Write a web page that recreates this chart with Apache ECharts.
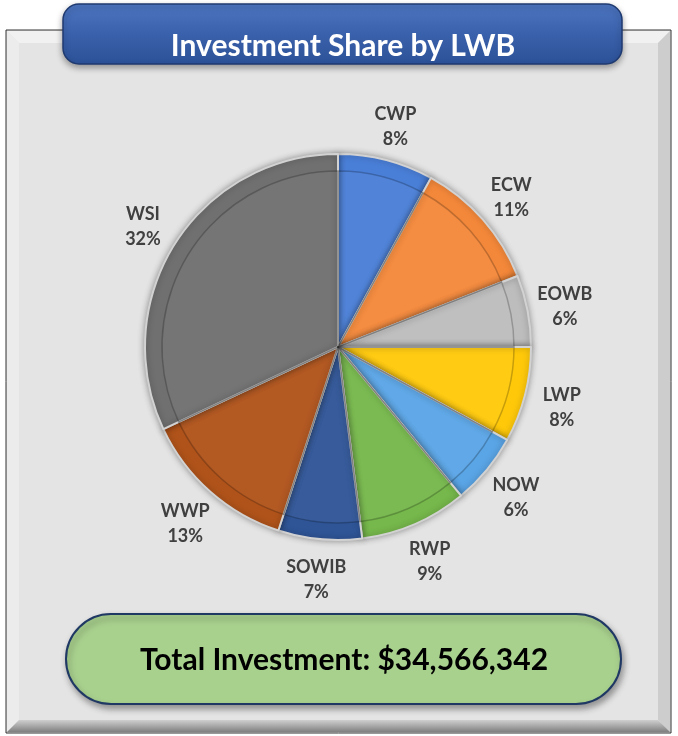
<!DOCTYPE html>
<html>
<head>
<meta charset="utf-8">
<script src="https://cdn.jsdelivr.net/npm/echarts@6/dist/echarts.min.js"></script>
<style>
  html, body { margin: 0; padding: 0; background: #fff; }
  #chart { width: 678px; height: 736px; }
</style>
</head>
<body>
<div id="chart"></div>
<script>
// data (share in %)
const categories = ['CWP', 'ECW', 'EOWB', 'LWP', 'NOW', 'RWP', 'SOWIB', 'WWP', 'WSI']
const shares = [8, 11, 6, 8, 6, 9, 7, 13, 32]
const sliceColors = ['#4a7fd8', '#f4883a', '#bdbdbd', '#ffc90a', '#5aa5e6', '#76b84b', '#2f5597', '#b0531a', '#707070']
const titleText = 'Investment Share by LWB'
const totalText = 'Total Investment: $34,566,342'

const pieData = categories.map((name, i) => ({
  name: name,
  value: shares[i],
  itemStyle: { color: sliceColors[i] }
}))

const font = 'Lato, "Open Sans", sans-serif'
const center = [338, 347]

const option = {
  backgroundColor: '#fff',
  animation: false,
  graphic: [
    // grey panel
    {
      type: 'rect', z: 0,
      shape: { x: 6, y: 30, width: 665, height: 703 },
      style: { fill: '#e4e4e4', stroke: '#333', lineWidth: 1 }
    },
    { type: 'polygon', z: 1, shape: { points: [[7, 31], [670, 31], [658, 43], [19, 43]] }, style: { fill: '#f1f1f1' } },
    { type: 'polygon', z: 1, shape: { points: [[7, 31], [19, 43], [19, 720], [7, 732]] }, style: { fill: '#ececec' } },
    { type: 'polygon', z: 1, shape: { points: [[670, 31], [670, 732], [658, 720], [658, 43]] }, style: { fill: '#cdcdcd' } },
    {
      type: 'polygon', z: 1,
      shape: { points: [[7, 732], [19, 720], [658, 720], [670, 732]] },
      style: {
        fill: new echarts.graphic.LinearGradient(0, 0, 0, 1, [
          { offset: 0, color: '#cfcfcf' },
          { offset: 1, color: '#808080' }
        ])
      }
    },
    // title box
    {
      type: 'rect', z: 5,
      shape: { x: 63, y: 4, width: 559, height: 60, r: 16 },
      style: {
        fill: new echarts.graphic.LinearGradient(0, 0, 0, 1, [
          { offset: 0, color: '#4d76c2' },
          { offset: 0.5, color: '#3a61ab' },
          { offset: 1, color: '#2c5198' }
        ]),
        stroke: '#1f3a70', lineWidth: 1.5,
        shadowBlur: 6, shadowOffsetY: 3, shadowColor: 'rgba(0,0,0,0.35)'
      }
    },
    {
      type: 'text', z: 6,
      style: {
        x: 343, y: 46, text: titleText, align: 'center', verticalAlign: 'middle',
        fill: '#fff', font: 'bold 30px ' + font
      }
    },
    // total box
    {
      type: 'rect', z: 5,
      shape: { x: 66, y: 614, width: 555, height: 90, r: 45 },
      style: {
        fill: '#a9d18e', stroke: '#1f3864', lineWidth: 2,
        shadowBlur: 6, shadowOffsetX: 2, shadowOffsetY: 4, shadowColor: 'rgba(0,0,0,0.35)'
      }
    },
    {
      type: 'text', z: 6,
      style: {
        x: 344, y: 660, text: totalText, align: 'center', verticalAlign: 'middle',
        fill: '#000', font: 'bold 30px ' + font
      }
    }
  ],
  series: [
    {
      name: 'share',
      type: 'pie',
      z: 3,
      center: center,
      radius: [0, 193],
      startAngle: 90,
      data: pieData,
      label: { show: false },
      labelLine: { show: false },
      itemStyle: {
        borderColor: '#d2d2d2',
        borderWidth: 2,
        shadowBlur: 6,
        shadowColor: 'rgba(0,0,0,0.35)'
      }
    },
    {
      // bevel line inside each slice
      name: 'bevel',
      type: 'pie',
      z: 4,
      silent: true,
      center: center,
      radius: [0, 176],
      startAngle: 90,
      data: pieData.map(d => ({ name: d.name, value: d.value })),
      label: { show: false },
      labelLine: { show: false },
      itemStyle: {
        color: 'rgba(255,255,255,0.04)',
        borderColor: 'rgba(0,0,0,0.22)',
        borderWidth: 1.5
      }
    },
    {
      // transparent ring that carries the labels
      name: 'labels',
      type: 'pie',
      z: 4,
      silent: true,
      center: [338, 350],
      radius: [220, 236],
      startAngle: 90,
      data: pieData.map(d => ({ name: d.name, value: d.value })),
      itemStyle: { color: 'transparent', borderWidth: 0 },
      labelLine: { show: false },
      label: {
        show: true,
        position: 'inside',
        rotate: 0,
        formatter: '{b}\n{d}%',
        color: '#404040',
        fontFamily: font,
        fontWeight: 'bold',
        fontSize: 18,
        lineHeight: 25
      }
    }
  ]
}

const chart = echarts.init(document.getElementById('chart'))
chart.setOption(option)
</script>
</body>
</html>
